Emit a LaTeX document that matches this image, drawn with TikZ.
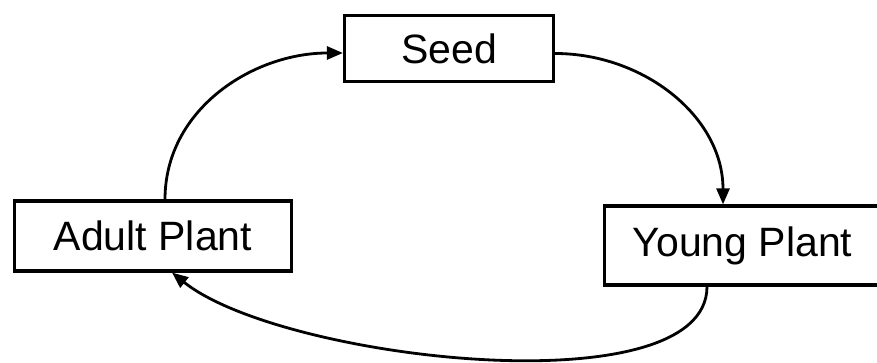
\documentclass[tikz,border=0pt]{standalone}
\usepackage{fontspec}
\setmainfont{Liberation Sans}
\usetikzlibrary{arrows.meta}
\tikzset{
  stagebox/.style={draw=black, line width=3.2pt, inner sep=0pt, font=\fontsize{41}{49}\selectfont},
  cyclearrow/.style={line width=2.8pt, -{Triangle[length=16pt,width=13pt]}}
}
\begin{document}
\begin{tikzpicture}[x=1pt,y=1pt]
\useasboundingbox[fill=white] (0,0) rectangle (877,363);
\node[stagebox, minimum width=209pt, minimum height=66pt] (seed) at (449,314.5) {Seed};
\node[stagebox, minimum width=277pt, minimum height=70pt] (adult) at (153,127) {Adult Plant};
\node[stagebox, minimum width=276pt, minimum height=79pt] (young) at (742.5,117.5) {Young Plant};
\draw[cyclearrow] ([xshift=12pt]adult.north) to[out=90,in=180] ([yshift=-4.5pt]seed.west);
\draw[cyclearrow] ([yshift=-5pt]seed.east) to[out=0,in=90] ([xshift=-19.5pt]young.north);
\draw[cyclearrow] ([xshift=-35.5pt]young.south) .. controls +(0,-122) and +(110,-88) .. ([xshift=19pt]adult.south);
\end{tikzpicture}
\end{document}
